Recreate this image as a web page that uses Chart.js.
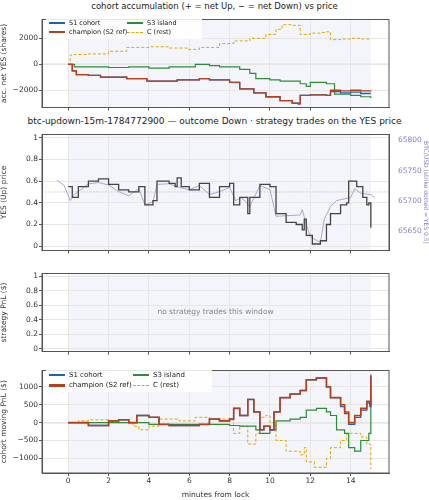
<!DOCTYPE html>
<html><head><meta charset="utf-8">
<script src="https://cdn.jsdelivr.net/npm/chart.js@4"></script>
<style>
body{margin:0;width:429px;height:500px;background:#fff;font-family:"DejaVu Sans",sans-serif;position:relative;overflow:hidden}
canvas{position:absolute;left:0}
.t{position:absolute;left:0;width:429px;text-align:center;font-size:8.5px;color:#222}
.lg{position:absolute;font-size:6.5px;color:#222;background:rgba(255,255,255,0.85);padding:2px 3px;line-height:9px;white-space:nowrap}
.lg i{display:inline-block;width:16px;height:1.5px;vertical-align:middle;margin-right:4px}
.lg b{display:inline-block;width:16px;height:0;border-top:1.5px dashed #e0a800;vertical-align:middle;margin-right:4px}
</style></head><body>
<div class="t" style="top:1px">cohort accumulation (+ = net Up, − = net Down) vs price</div>
<div class="t" style="top:116px;font-size:9px">btc-updown-15m-1784772900 — outcome Down · strategy trades on the YES price</div>
<canvas id="c1" width="429" height="99" style="top:14px;width:429px;height:99px"></canvas>
<canvas id="c2" width="429" height="127" style="top:129px;width:429px;height:127px"></canvas>
<canvas id="c3" width="429" height="89" style="top:268px;width:429px;height:89px"></canvas>
<canvas id="c4" width="429" height="135" style="top:365px;width:429px;height:135px"></canvas>
<div class="lg" style="left:46px;top:17px;width:150px">
<div style="display:flex"><div style="width:78px"><i style="background:#1f5fbf"></i>S1 cohort</div><div><i style="background:#2e8b3a"></i>S3 island</div></div>
<div style="display:flex"><div style="width:78px"><i style="background:#b5401c"></i>champion (S2 ref)</div><div><b></b>C (rest)</div></div>
</div>
<div class="lg" style="left:46px;top:368px;width:160px;font-size:7px;line-height:10px">
<div style="display:flex"><div style="width:84px"><i style="background:#1f5fbf"></i>S1 cohort</div><div><i style="background:#2e8b3a"></i>S3 island</div></div>
<div style="display:flex"><div style="width:84px"><i style="background:#b5401c;height:3px"></i>champion (S2 ref)</div><div><b></b>C (rest)</div></div>
</div>
<script>
// ---- panel 1: accumulated net YES (shares)
const accC_t=[0,0.1,0.3,1,2,2.9,4,5,5.9,6.5,7.5,8.2,9,9.8,10.3,10.6,11.1,11.5,12,12.5,12.8,13,13.5,14,14.5,15];
const accC_v=[0,700,750,800,1000,1300,1350,1250,1150,1300,1600,1800,2000,2300,2700,3050,3000,2300,2400,2450,2500,1900,1950,2000,1950,2000];
const accR_t=[0,0.2,0.4,1,1.6,2.9,3.9,5.4,6.5,7,8,8.5,9.2,9.8,10.5,11.1,11.4,11.5,12,12.8,13,13.5,14,14.5,15];
const accR_v=[0,-500,-800,-850,-1000,-1100,-1300,-1200,-1100,-1200,-1400,-1900,-2200,-2500,-2800,-3000,-3050,-2400,-2350,-2400,-2000,-2050,-2000,-2050,-2100];
const accB_t=[0,0.2,0.4,1,1.6,2.9,3.9,5.4,6.5,7,8,8.5,9.2,9.8,10.5,11.1,11.4,11.5,12,12.8,13,13.5,14,14.5,15];
const accB_v=[0,-500,-800,-850,-1000,-1100,-1300,-1200,-1100,-1200,-1400,-1900,-2200,-2500,-2800,-3000,-3050,-2400,-2350,-2400,-2100,-2200,-2150,-2250,-2250];
const accG_t=[0,0.3,1,2,3,4,5,6.3,7,7.5,8.5,9,9.3,10,10.5,11.5,11.8,12,12.8,13.2,14,14.5,15];
const accG_v=[0,-200,-200,-250,-200,-300,-200,0,-100,-200,-400,-700,-1100,-1200,-1300,-1500,-1700,-1400,-1500,-2300,-2400,-2500,-2600];
// ---- panel 2: YES price and BTC
const yes_t=[0,0.2,0.5,1,1.5,2,2.5,3,3.5,3.8,4.2,4.4,5,5.3,5.4,5.6,6,6.5,7,7.5,8,8.2,8.5,8.9,9,9.5,10,10.3,10.8,11.3,11.6,11.7,11.8,12.1,12.5,12.8,13,13.5,13.8,13.9,14.3,14.6,14.8,14.9,15];
const yes_v=[0.55,0.45,0.55,0.6,0.62,0.57,0.52,0.5,0.55,0.38,0.42,0.6,0.58,0.55,0.63,0.55,0.52,0.58,0.45,0.55,0.58,0.38,0.45,0.3,0.45,0.57,0.55,0.3,0.22,0.2,0.15,0.25,0.1,0.02,0.05,0.2,0.3,0.38,0.4,0.6,0.55,0.45,0.38,0.4,0.17];
const btc_t=[-0.55,-0.2,0.1,0.3,1,1.5,2,2.5,3,3.5,3.8,4.2,4.4,5,5.5,6,6.5,7,7.5,8,8.3,8.6,9,9.5,10,10.3,11.5,11.6,11.8,12,12.5,12.7,13,13.3,14,14.2,14.5,15,15.2];
const btc_v=[65734,65725,65700,65710,65728,65730,65726,65715,65708,65720,65693,65698,65727,65728,65722,65718,65725,65710,65715,65722,65700,65705,65690,65725,65718,65674,65676,65685,65660,65640,65630,65670,65690,65700,65705,65720,65712,65710,65705];
const strikeYes=0.5;
// ---- panel 4: cohort moving PnL ($)
const pnlR_t=[0,1,2,2.5,3,3.4,4,4.5,5,6,6.5,7,7.5,8,8.2,8.5,8.9,9.2,9.5,9.7,10,10.2,10.5,11,11.5,11.8,12.3,12.8,13,13.5,13.7,13.9,14.2,14.5,14.8,14.95,15];
const pnlR_v=[0,-80,50,80,0,200,150,-50,-80,-80,-50,100,50,100,400,200,650,300,-200,-100,-200,300,700,800,900,1200,1250,1000,700,500,300,0,200,400,600,500,1300];
const pnlB_v=[0,-80,50,80,0,200,150,-50,-80,-80,-50,100,50,100,400,200,650,300,-200,-100,-200,300,700,800,900,1200,1250,1000,700,450,250,-50,150,350,550,450,1350];
const pnlG_t=[0,4,8,8.5,9.3,9.5,10,10.3,11,11.5,11.8,12.3,12.8,13,13.3,13.7,13.9,14.2,14.5,14.9,15];
const pnlG_v=[0,-50,-80,-100,-200,-300,-200,50,100,150,350,400,300,200,-200,-300,-700,-800,-500,-300,700];
const pnlC_t=[0,0.5,1,2,3.2,3.5,4,4.5,5.5,6.3,7,7.8,8.2,8.5,8.9,9.3,9.5,9.8,10,10.3,10.8,11.5,11.7,11.8,12.2,12.8,13,13.5,13.8,14.5,14.8,15];
const pnlC_v=[0,50,80,0,-100,-200,-100,100,50,150,100,100,-300,-100,-600,-300,150,200,0,-500,-800,-900,-700,-1100,-1250,-1000,-700,-500,-300,-400,-600,-1300];
const xTicks=[0,2,4,6,8,10,12,14];

const pts=(t,v)=>t.map((x,i)=>({x,y:v[i]}));
const COL={S1:'#1f5fbf',S2:'#b5401c',S3:'#2e8b3a',C:'#e0a800'};
const frame={id:'frame',beforeDraw(c){const a=c.chartArea,x=c.scales.x,g=c.ctx;g.save();g.fillStyle='#f3f5fa';const l=x.getPixelForValue(0),r=x.getPixelForValue(15);g.fillRect(l,a.top,r-l,a.bottom-a.top);
 const h=c.options.plugins.hline;if(h){const y=c.scales.y.getPixelForValue(h.v);g.strokeStyle=h.c;g.lineWidth=h.w;g.setLineDash(h.d||[]);g.beginPath();g.moveTo(a.left,y);g.lineTo(a.right,y);g.stroke();}
 g.restore();},
 afterDraw(c){const a=c.chartArea,g=c.ctx;g.save();g.strokeStyle='#555';g.lineWidth=1;g.strokeRect(a.left,a.top,a.right-a.left,a.bottom-a.top);
 const m=c.options.plugins.msg;if(m){g.fillStyle='#888';g.font='7.5px "DejaVu Sans"';g.textAlign='center';g.textBaseline='middle';g.fillText(m,(a.left+a.right)/2,(a.top+a.bottom)/2);}g.restore();}};
Chart.defaults.font.family='"DejaVu Sans"';Chart.defaults.font.size=7.5;Chart.defaults.color='#333';
Chart.defaults.animation=false;
function xs(last){return {type:'linear',min:-1.3,max:15.9,afterBuildTicks:s=>{s.ticks=xTicks.map(v=>({value:v}))},
 afterFit:s=>{s.height=last?27:5},grid:{color:'#e6e6e6',tickLength:3,tickColor:'#555'},border:{color:'#555'},
 ticks:{display:!!last,padding:1,font:{size:7.5}},title:{display:!!last,text:'minutes from lock',padding:0,font:{size:7.5}}};}
function ys(title,min,max,ticks){return {min,max,afterBuildTicks:s=>{s.ticks=ticks.map(v=>({value:v}))},afterFit:s=>{s.width=42},
 grid:{color:'#e6e6e6',tickLength:3,tickColor:'#555'},border:{color:'#555'},ticks:{padding:1,font:{size:7.5},callback:v=>String(v).replace('-','−')},
 title:{display:true,text:title,padding:0,font:{size:7.5}}};}
function ds(data,color,w,dash){return {data,borderColor:color,borderWidth:w,borderDash:dash||[],pointRadius:0,stepped:true,fill:false};}
const base=(hl,msg)=>({responsive:false,layout:{padding:{right:40,top:0,left:0}},plugins:{legend:{display:false},tooltip:{enabled:false},hline:hl,msg}});

new Chart('c1',{type:'line',plugins:[frame],data:{datasets:[
 ds(pts(accR_t,accR_v),COL.S2,1.3),ds(pts(accB_t,accB_v),COL.S1,1.3),ds(pts(accG_t,accG_v),COL.S3,1.2),ds(pts(accC_t,accC_v),COL.C,1,[3,2])]},
 options:{...base({v:0,c:'#ddd',w:1.5}),scales:{x:xs(false),y:ys('acc. net YES (shares)',-3330,3450,[-2000,0,2000])}}});

const o2=base({v:strikeYes,c:'#bbb',w:0.8,d:[1.5,1.5]});o2.layout.padding.right=0;
new Chart('c2',{type:'line',plugins:[frame],data:{datasets:[
 ds(pts(yes_t,yes_v),'#444',1.3),{...ds(pts(btc_t,btc_v),'#a99bd0',0.9),yAxisID:'y2',stepped:false}]},
 options:{...o2,scales:{x:xs(false),y:ys('YES (Up) price',-0.04,1.03,[0,0.2,0.4,0.6,0.8,1.0]),
  y2:{position:'right',min:65617,max:65810,afterBuildTicks:s=>{s.ticks=[65650,65700,65750,65800].map(v=>({value:v}))},afterFit:s=>{s.width=40},
   grid:{display:false},border:{color:'#555'},ticks:{color:'#8e7cc3',padding:1,font:{size:7.5},callback:v=>String(v)},
   title:{display:true,text:'BTC/USD (strike dotted = YES 0.5)',color:'#8e7cc3',padding:0,font:{size:6}}}}}});
new Chart('c3',{type:'line',plugins:[frame],data:{datasets:[]},
 options:{...base(null,'no strategy trades this window'),scales:{x:xs(false),y:ys('strategy PnL ($)',-0.04,1.04,[0,0.2,0.4,0.6,0.8,1.0])}}});

new Chart('c4',{type:'line',plugins:[frame],data:{datasets:[
 ds(pts(pnlR_t,pnlR_v),COL.S2,1.6),ds(pts(pnlR_t,pnlB_v),COL.S1,1.3),ds(pts(pnlG_t,pnlG_v),COL.S3,1.2),ds(pts(pnlC_t,pnlC_v),COL.C,1,[3,2])]},
 options:{...base({v:0,c:'#ddd',w:1.5}),scales:{x:xs(true),y:ys('cohort moving PnL ($)',-1410,1460,[-1000,-500,0,500,1000])}}});
</script></body></html>
